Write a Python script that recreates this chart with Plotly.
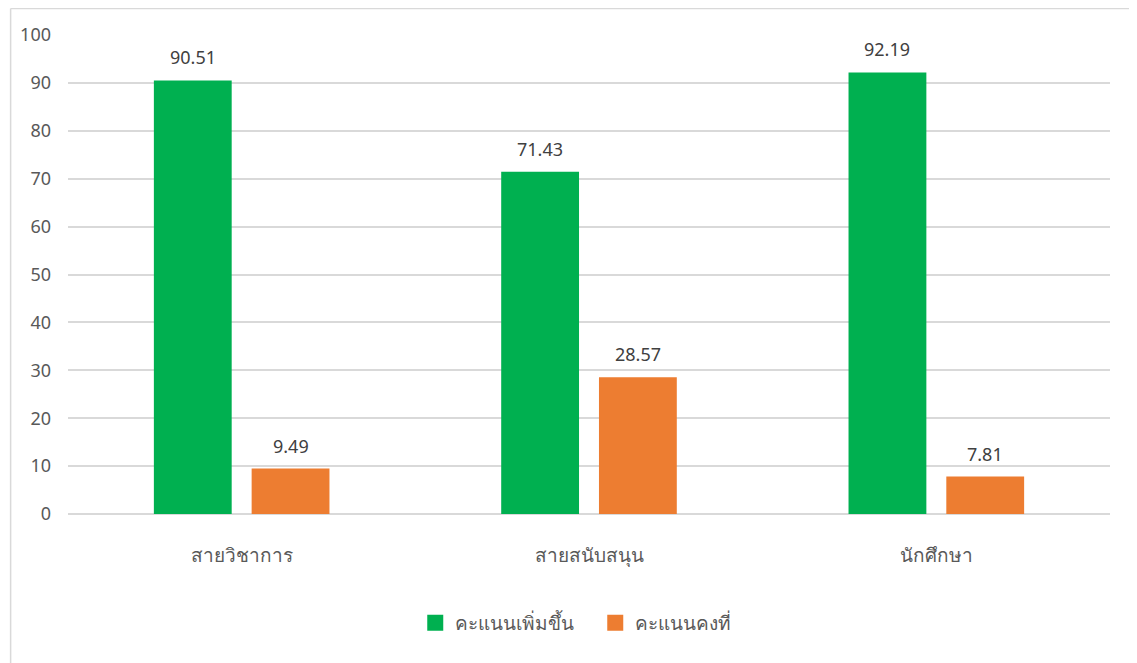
import plotly.graph_objects as go

categories = ["สายวิชาการ", "สายสนับสนุน", "นักศึกษา"]
series_names = ["คะแนนเพิ่มขึ้น", "คะแนนคงที่"]
increased = [90.51, 71.43, 92.19]
constant = [9.49, 28.57, 7.81]
colors = ["#00B050", "#ED7D31"]
y_ticks = [0, 10, 20, 30, 40, 50, 60, 70, 80, 90, 100]

W, H = 1137, 663
ml, mr, mt, mb = 58, 35, 27, 157
pw = W - ml - mr
ph = H - mt - mb

fig = go.Figure()
annotations = []
offsets = [-49, 49]
for name, vals, col, off in zip(series_names, [increased, constant], colors, offsets):
    fig.add_trace(go.Bar(
        x=categories, y=vals, name=name, showlegend=False,
        marker=dict(color=col, line=dict(width=0)),
    ))
    fig.add_trace(go.Scatter(
        x=[None], y=[None], mode="markers", name=name,
        marker=dict(symbol="square", size=17, color=col),
    ))
    for c, v in zip(categories, vals):
        annotations.append(dict(
            x=c, y=v, xref="x", yref="y", text=f"{v:.2f}", showarrow=False,
            xshift=off, yshift=23, yanchor="middle",
            font=dict(size=18, color="#404040"),
        ))

fig.update_layout(
    width=W, height=H,
    margin=dict(l=ml, r=mr, t=mt, b=mb),
    paper_bgcolor="white", plot_bgcolor="white",
    barmode="group", bargap=0.437, bargroupgap=0.204,
    font=dict(family="Noto Sans, Open Sans, sans-serif", color="#595959", size=16),
    showlegend=True,
    legend=dict(orientation="h", x=0.506, xanchor="center", y=(506 - 615) / 479, yanchor="middle",
                font=dict(size=19, color="#595959"), traceorder="normal", itemsizing="trace",
                entrywidth=135),
    xaxis=dict(showgrid=False, showline=False, ticks="", tickfont=dict(size=19, color="#595959"),
               ticklabelstandoff=28),
    yaxis=dict(range=[0, 100], tickvals=y_ticks, showgrid=True, gridcolor="#D9D9D9", gridwidth=1.5,
               zeroline=True, zerolinecolor="#D9D9D9", zerolinewidth=1.5,
               showline=False, ticks="", tickfont=dict(size=18, color="#595959"), ticklabelstandoff=16),
    annotations=annotations,
    shapes=[
        dict(type="line", xref="paper", yref="paper",
             x0=(0.5 - ml) / pw, x1=(W + 5 - ml) / pw,
             y0=(H - mb - 0.5) / ph, y1=(H - mb - 0.5) / ph,
             line=dict(color="#D9D9D9", width=1.5)),
        dict(type="line", xref="paper", yref="paper",
             x0=(0.5 - ml) / pw, x1=(0.5 - ml) / pw,
             y0=(H - mb - 0.5) / ph, y1=(H - mb - H - 5) / ph,
             line=dict(color="#D9D9D9", width=1.5)),
    ],
)

fig.write_html("out.html")
